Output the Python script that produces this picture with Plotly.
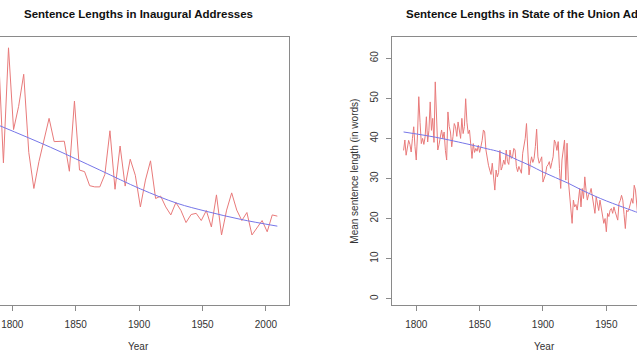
import plotly.graph_objects as go

# ---- Inaugural addresses: mean sentence length per address ----
inaug_years = [1789, 1793, 1797, 1801, 1805, 1809, 1813, 1817, 1821, 1825, 1829, 1833,
               1837, 1841, 1845, 1849, 1853, 1857, 1861, 1865, 1869, 1873, 1877, 1881,
               1885, 1889, 1893, 1897, 1901, 1905, 1909, 1913, 1917, 1921, 1925, 1929,
               1933, 1937, 1941, 1945, 1949, 1953, 1957, 1961, 1965, 1969, 1973, 1977,
               1981, 1985, 1989, 1993, 1997, 2001, 2005, 2009]
inaug_len = [62.0, 33.9, 62.6, 42.2, 48.0, 56.0, 36.5, 27.5, 34.2, 39.5, 45.0, 39.2,
             39.2, 39.3, 31.8, 49.3, 32.1, 31.7, 28.2, 27.9, 27.9, 31.0, 41.9, 27.3,
             38.1, 28.1, 34.8, 30.8, 22.9, 29.6, 34.4, 25.0, 25.6, 22.9, 20.9, 24.0,
             22.0, 19.0, 21.0, 21.3, 19.5, 22.0, 17.9, 25.9, 15.9, 22.1, 26.4, 22.1,
             19.5, 21.5, 15.9, 17.6, 19.5, 16.7, 20.9, 20.6]
# smooth trend
inaug_smooth_years = [1789, 1830, 1869, 1901, 1930, 1953, 1980, 2009]
inaug_smooth = [43.3, 37.8, 32.1, 27.4, 23.8, 21.8, 19.8, 18.1]

# ---- State of the Union addresses ----
sotu_years = list(range(1790, 1976))
sotu_len = [37.0, 39.6, 35.8, 38.0, 39.5, 38.5, 36.6, 40.0, 42.9, 38.0,
            34.6, 41.0, 50.4, 44.0, 38.7, 40.0, 38.5, 40.4, 45.4, 39.1,
            42.0, 49.1, 42.0, 45.0, 39.0, 54.1, 43.0, 37.1, 38.5, 40.4,
            42.1, 40.0, 41.6, 37.0, 34.6, 46.6, 43.0, 41.6, 37.9, 40.5,
            43.7, 42.9, 40.5, 44.1, 42.1, 40.0, 45.0, 41.2, 43.0, 49.9,
            44.0, 41.2, 42.1, 38.0, 35.0, 38.7, 36.5, 37.5, 36.8, 38.3,
            36.5, 37.9, 39.5, 42.1, 41.6, 37.1, 35.0, 33.3, 32.1, 31.0,
            33.8, 29.6, 27.1, 32.1, 30.4, 31.5, 37.0, 32.1, 33.0, 34.6,
            33.5, 37.1, 34.2, 33.5, 37.1, 35.0, 35.4, 37.5, 37.1, 33.0,
            31.7, 33.0, 32.0, 31.3, 36.3, 38.3, 40.0, 43.7, 36.0, 30.9,
            33.8, 35.4, 34.0, 35.0, 38.0, 42.3, 35.4, 33.8, 34.5, 35.4,
            29.1, 30.0, 31.0, 33.0, 33.4, 34.2, 32.5, 34.0, 35.4, 39.6,
            38.8, 37.0, 39.2, 32.5, 27.5, 34.6, 37.0, 39.6, 29.6, 38.8,
            29.6, 25.4, 21.0, 18.8, 24.6, 22.9, 23.5, 22.1, 24.6, 27.5,
            22.9, 27.5, 25.0, 30.4, 27.1, 24.6, 26.0, 26.3, 27.5, 25.0,
            22.9, 21.3, 25.4, 23.8, 22.0, 24.6, 22.9, 21.3, 18.8, 20.0,
            16.7, 21.3, 20.5, 22.1, 22.5, 21.3, 22.9, 21.7, 20.5, 19.6,
            23.8, 24.5, 25.8, 24.6, 21.0, 17.5, 22.1, 21.7, 22.5, 24.0,
            25.0, 23.8, 28.3, 27.1, 22.0, 20.0]
sotu_smooth_years = [1790, 1815, 1843, 1856, 1866, 1880, 1890, 1900, 1910, 1920,
                     1930, 1941, 1950, 1960, 1973, 1980]
sotu_smooth = [41.6, 40.3, 38.4, 37.4, 36.6, 34.6, 33.2, 31.6, 30.2, 28.8,
               27.2, 25.6, 24.4, 23.2, 21.7, 20.9]

x_ticks = [1800, 1850, 1900, 1950, 2000]
y_ticks = [0, 10, 20, 30, 40, 50, 60]

W, H = 637, 357
RED = "rgb(232,122,122)"
BLUE = "rgb(118,118,232)"
AXC = "#8a8a8a"
TXT = "#333333"
FONT = "Liberation Sans, Arial, Helvetica, sans-serif"

fig = go.Figure()
fig.add_trace(go.Scatter(x=inaug_years, y=inaug_len, mode="lines",
                         line=dict(color=RED, width=1), xaxis="x", yaxis="y"))
fig.add_trace(go.Scatter(x=inaug_smooth_years, y=inaug_smooth, mode="lines",
                         line=dict(color=BLUE, width=1, shape="spline"), xaxis="x", yaxis="y"))
fig.add_trace(go.Scatter(x=sotu_years, y=sotu_len, mode="lines",
                         line=dict(color=RED, width=1), xaxis="x2", yaxis="y2"))
fig.add_trace(go.Scatter(x=sotu_smooth_years, y=sotu_smooth, mode="lines",
                         line=dict(color=BLUE, width=1, shape="spline"), xaxis="x2", yaxis="y2"))

ydom = [(H - 304.7) / H, (H - 37) / H]
yrange = [-1.5, 65.3]

common_x = dict(tickvals=x_ticks, ticks="outside", ticklen=5, tickcolor=AXC,
                showline=True, linecolor=AXC, linewidth=1, mirror=True,
                showgrid=False, zeroline=False, ticklabelstandoff=5,
                tickfont=dict(family=FONT, size=10, color=TXT))

fig.update_layout(
    width=W, height=H,
    margin=dict(l=0, r=0, t=0, b=0),
    paper_bgcolor="white", plot_bgcolor="white",
    showlegend=False,
    xaxis=dict(domain=[0, 289 / W], range=[1790.3, 2018.2], anchor="y", **common_x),
    yaxis=dict(domain=ydom, range=yrange, anchor="x", side="right",
               showline=True, linecolor=AXC, linewidth=1, ticks="",
               showticklabels=False, showgrid=False, zeroline=False),
    xaxis2=dict(domain=[392.3 / W, 1], range=[1781.1, 1974.2], anchor="y2", **common_x),
    yaxis2=dict(domain=ydom, range=yrange, anchor="x2", side="left",
                tickvals=y_ticks, ticks="outside", ticklen=5, tickcolor=AXC,
                tickangle=-90, ticklabelstandoff=4,
                showline=True, linecolor=AXC, linewidth=1,
                showgrid=False, zeroline=False,
                tickfont=dict(family=FONT, size=10, color=TXT)),
)

def ann(text, xpx, ypx, size, bold=False, angle=0):
    fig.add_annotation(text=text, x=xpx / W, y=1 - ypx / H, xref="paper", yref="paper",
                       showarrow=False, xanchor="center", yanchor="middle",
                       textangle=angle,
                       font=dict(family=FONT, size=size, color="#111111" if bold else TXT,
                                 weight="bold" if bold else "normal"))

ann("Sentence Lengths in Inaugural Addresses", 138, 14, 11.5, bold=True)
ann("Sentence Lengths in State of the Union Addresses", 544, 14, 11.5, bold=True)
ann("Year", 138, 346, 10)
ann("Year", 544, 346, 10)
ann("Mean sentence length (in words)", 353.7, 171, 10, angle=-90)

fig.write_html("out.html", config={"displayModeBar": False},
               post_script="document.body.style.margin='0';document.body.style.overflow='hidden';")
